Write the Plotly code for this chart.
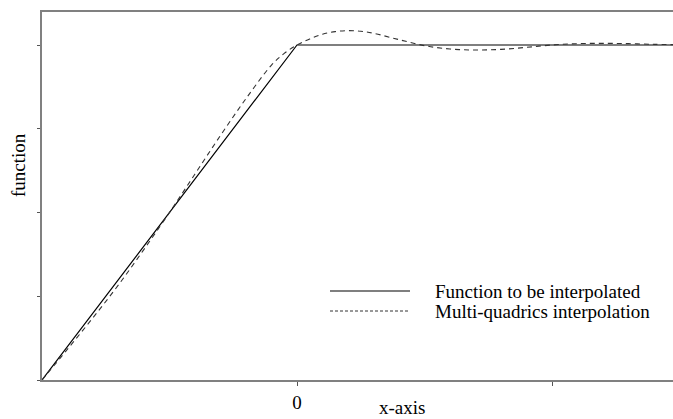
import plotly.graph_objects as go

# Data
x_func = [-1.0, 0.0, 1.48]
y_func = [0.0, 1.0, 1.0]

x_mq = [-1.0, -0.9, -0.8, -0.7, -0.6, -0.5, -0.4, -0.3, -0.2, -0.1, -0.05, 0.0,
        0.05, 0.1, 0.15, 0.2, 0.25, 0.3, 0.4, 0.5, 0.6, 0.7, 0.8, 0.9, 1.0,
        1.1, 1.2, 1.3, 1.4, 1.48]
y_mq = [0.0, 0.092, 0.186, 0.284, 0.39, 0.5, 0.615, 0.73, 0.84, 0.94, 0.975, 1.0,
        1.018, 1.032, 1.04, 1.043, 1.041, 1.035, 1.016, 0.998, 0.988, 0.985, 0.987, 0.993, 1.0,
        1.004, 1.005, 1.004, 1.002, 1.001]

legend_labels = ["Function to be interpolated", "Multi-quadrics interpolation"]
x_tickvals = [0, 1]
x_ticktext = ["0", ""]
y_tickvals = [0, 0.25, 0.5, 0.75, 1.0]

W, H = 673, 419
L, R, T, B = 42, 0, 12, 39
pw, ph = W - L - R, H - T - B

def px(x):
    return (x - L) / pw

def py(y):
    return (H - B - y) / ph

FONT = "Liberation Serif, Times New Roman, serif"

fig = go.Figure()
fig.add_trace(go.Scatter(x=x_func, y=y_func, mode="lines",
                         line=dict(color="black", width=1.2), showlegend=False))
fig.add_trace(go.Scatter(x=x_mq, y=y_mq, mode="lines", line_shape="spline",
                         line=dict(color="#333333", width=1.1, dash="5px,4px"), showlegend=False))

# manual legend
fig.add_shape(type="line", xref="paper", yref="paper", x0=px(330), x1=px(410), y0=py(291), y1=py(291),
              line=dict(color="black", width=1.2))
fig.add_shape(type="line", xref="paper", yref="paper", x0=px(330), x1=px(410), y0=py(311), y1=py(311),
              line=dict(color="#333333", width=1, dash="3px,2px"))
for lbl, yy in zip(legend_labels, [291, 311]):
    fig.add_annotation(text=lbl, xref="paper", yref="paper", x=px(433), y=py(yy),
                       xanchor="left", yanchor="middle", showarrow=False,
                       font=dict(family=FONT, size=19, color="black"))

# axis titles
fig.add_annotation(text="x-axis", xref="paper", yref="paper", x=px(402), y=py(407),
                   xanchor="center", yanchor="middle", showarrow=False,
                   font=dict(family=FONT, size=19, color="black"))
fig.add_annotation(text="function", xref="paper", yref="paper", x=px(18), y=py(165),
                   xanchor="center", yanchor="middle", showarrow=False, textangle=-90,
                   font=dict(family=FONT, size=19, color="black"))

fig.update_layout(
    width=W, height=H, margin=dict(l=L, r=R, t=T, b=B),
    paper_bgcolor="white", plot_bgcolor="white",
    font=dict(family=FONT, size=19, color="black"),
    xaxis=dict(range=[-1.0, (W - 297) / 255.0], showgrid=False, zeroline=False,
               showline=True, linecolor="#808080", linewidth=1.5, mirror=True,
               ticks="outside", ticklen=4, tickcolor="#555555", tickwidth=1,
               tickvals=x_tickvals, ticktext=x_ticktext, ticklabelstandoff=0),
    yaxis=dict(range=[0, (380 - 12) / 335.0], showgrid=False, zeroline=False,
               showline=True, linecolor="#808080", linewidth=1.5,
               ticks="outside", ticklen=3, tickcolor="#555555", tickwidth=1,
               tickvals=y_tickvals, showticklabels=False),
)

fig.write_html("out.html")
